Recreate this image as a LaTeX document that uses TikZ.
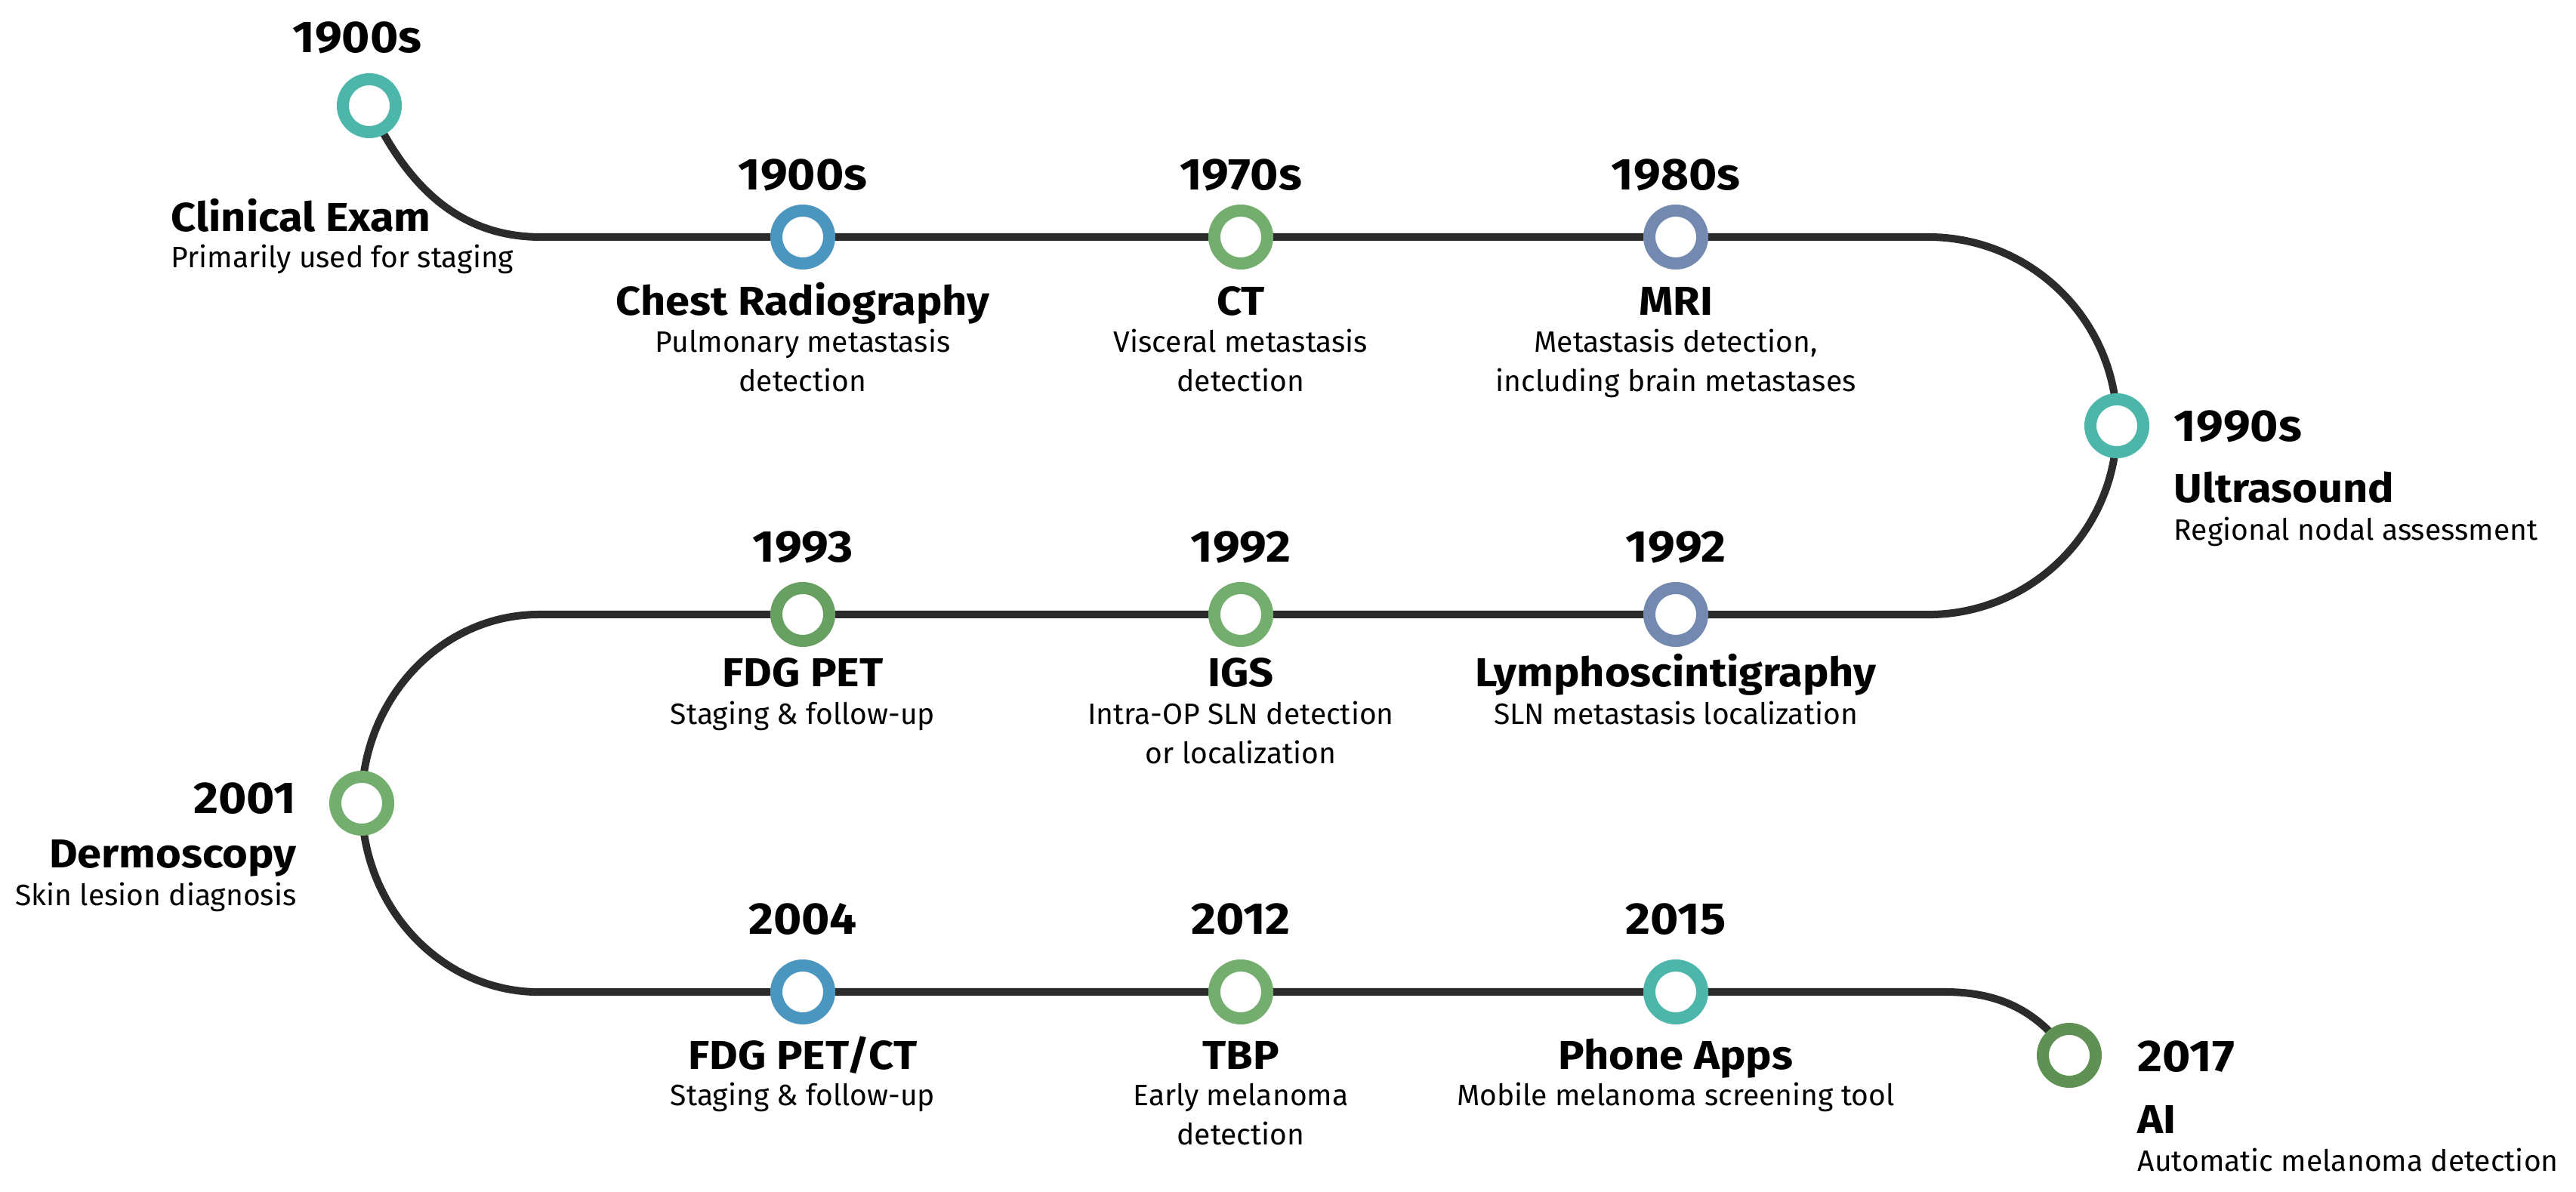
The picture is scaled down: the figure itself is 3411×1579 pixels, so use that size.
\documentclass[tikz,border=0pt]{standalone}
\usepackage{fontspec}
\setmainfont{Fira Sans}
\newfontfamily\headfont{Fira Sans}[FakeStretch=1.08]
\usepackage{tikz}
\usetikzlibrary{backgrounds}

\definecolor{teal1}{RGB}{77,182,170}
\definecolor{blue1}{RGB}{74,150,190}
\definecolor{green1}{RGB}{116,174,110}
\definecolor{green2}{RGB}{103,160,97}
\definecolor{green3}{RGB}{95,145,85}
\definecolor{slate1}{RGB}{115,137,175}
\definecolor{path1}{RGB}{43,43,43}

\begin{document}
\begin{tikzpicture}[x=0.01cm, y=0.01cm,
  ring/.style={circle, draw=#1, line width=0.16cm, fill=white, minimum size=0.70cm, inner sep=0pt},
  yr/.style={inner sep=0pt, anchor=base, font=\headfont\fontsize{16.8}{20}\selectfont\bfseries},
  ttl/.style={inner sep=0pt, anchor=base, font=\headfont\fontsize{15.2}{18}\selectfont\bfseries},
  dsc/.style={inner sep=0pt, anchor=base, align=center, font=\fontsize{11.1}{14.8}\selectfont},
  tl/.style={path1, line width=0.10cm}]
  \useasboundingbox (0,0) rectangle (3411,1579);

  % start
  \node[ring=teal1] (ce) at (489,1439) {};
  \node[yr] (ce-y) at (473,1509) {1900s};
  \node[ttl, anchor=base west] (ce-t) at (226,1272) {Clinical Exam};
  \node[dsc, anchor=base west] (ce-d) at (226,1224) {Primarily used for staging};

  % row 1
  \node[ring=blue1] (cr) at (1063,1265) {};
  \node[yr] (cr-y) at (1063,1327) {1900s};
  \node[ttl] (cr-t) at (1063,1161) {Chest Radiography};
  \node[dsc] (cr-d) at (1063,1060) {Pulmonary metastasis\\detection};
  \node[ring=green1] (ct) at (1643,1265) {};
  \node[yr] (ct-y) at (1643,1327) {1970s};
  \node[ttl] (ct-t) at (1643,1161) {CT};
  \node[dsc] (ct-d) at (1643,1060) {Visceral metastasis\\detection};
  \node[ring=slate1] (mri) at (2219,1265) {};
  \node[yr] (mri-y) at (2219,1327) {1980s};
  \node[ttl] (mri-t) at (2219,1161) {MRI};
  \node[dsc] (mri-d) at (2219,1060) {Metastasis detection,\\including brain metastases};

  % turn right
  \node[ring=teal1] (us) at (2803,1015) {};
  \node[yr, anchor=base west] (us-y) at (2878,994) {1990s};
  \node[ttl, anchor=base west] (us-t) at (2878,913) {Ultrasound};
  \node[dsc, anchor=base west] (us-d) at (2878,863) {Regional nodal assessment};

  % row 2
  \node[ring=slate1] (lym) at (2219,765) {};
  \node[yr] (lym-y) at (2219,834) {1992};
  \node[ttl] (lym-t) at (2219,669) {Lymphoscintigraphy};
  \node[dsc] (lym-d) at (2219,619) {SLN metastasis localization};
  \node[ring=green1] (igs) at (1643,765) {};
  \node[yr] (igs-y) at (1643,834) {1992};
  \node[ttl] (igs-t) at (1643,669) {IGS};
  \node[dsc] (igs-d) at (1643,567) {Intra-OP SLN detection\\or localization};
  \node[ring=green2] (pet) at (1063,765) {};
  \node[yr] (pet-y) at (1063,834) {1993};
  \node[ttl] (pet-t) at (1063,669) {FDG PET};
  \node[dsc] (pet-d) at (1063,619) {Staging \& follow-up};

  % turn left
  \node[ring=green1] (derm) at (479,515) {};
  \node[yr, anchor=base east] (derm-y) at (393,501) {2001};
  \node[ttl, anchor=base east] (derm-t) at (393,429) {Dermoscopy};
  \node[dsc, anchor=base east] (derm-d) at (393,379) {Skin lesion diagnosis};

  % row 3
  \node[ring=blue1] (petct) at (1063,265) {};
  \node[yr] (petct-y) at (1063,341) {2004};
  \node[ttl] (petct-t) at (1063,162) {FDG PET/CT};
  \node[dsc] (petct-d) at (1063,114) {Staging \& follow-up};
  \node[ring=green1] (tbp) at (1643,265) {};
  \node[yr] (tbp-y) at (1643,341) {2012};
  \node[ttl] (tbp-t) at (1643,162) {TBP};
  \node[dsc] (tbp-d) at (1643,62) {Early melanoma\\detection};
  \node[ring=teal1] (app) at (2219,265) {};
  \node[yr] (app-y) at (2219,341) {2015};
  \node[ttl] (app-t) at (2219,162) {Phone Apps};
  \node[dsc] (app-d) at (2219,114) {Mobile melanoma screening tool};

  % end
  \node[ring=green3] (ai) at (2740,181) {};
  \node[yr, anchor=base west] (ai-y) at (2830,159) {2017};
  \node[ttl, anchor=base west] (ai-t) at (2830,77) {AI};
  \node[dsc, anchor=base west] (ai-d) at (2830,27) {Automatic melanoma detection};

  % bends
  \coordinate (b1) at (716,1265);
  \coordinate (b2) at (2553,1265);
  \coordinate (b3) at (714,765);
  \coordinate (b4) at (2575,265);

  \begin{pgfonlayer}{background}
    \draw[tl] (ce.center) to[out=-65, in=180] (b1) -- (cr.center) -- (ct.center) -- (mri.center) -- (b2)
      arc[start angle=90, end angle=0, radius=2.5cm] -- (us.center)
      arc[start angle=0, end angle=-90, radius=2.5cm] -- (lym.center) -- (igs.center) -- (pet.center) -- (b3)
      arc[start angle=90, end angle=180, x radius=2.35cm, y radius=2.5cm] -- (derm.center)
      arc[start angle=180, end angle=270, x radius=2.35cm, y radius=2.5cm] -- (petct.center) -- (tbp.center) -- (app.center) -- (b4)
      to[out=0, in=125] (ai.center);
  \end{pgfonlayer}
\end{tikzpicture}
\end{document}
